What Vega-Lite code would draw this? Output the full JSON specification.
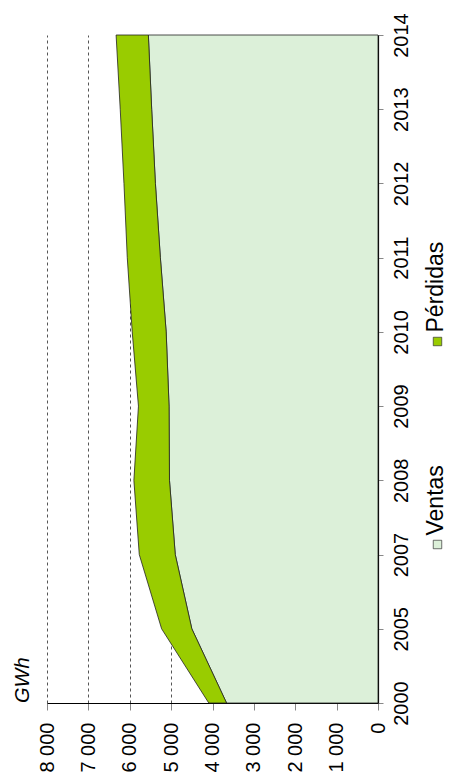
{
  "$schema": "https://vega.github.io/schema/vega-lite/v6.json",
  "width": 331,
  "height": 668,
  "autosize": {"type": "none"},
  "padding": {"left": 47, "top": 35, "right": 71, "bottom": 77},
  "background": "white",
  "title": {
    "text": "GWh",
    "orient": "left",
    "anchor": "start",
    "frame": "group",
    "font": "Liberation Sans",
    "fontSize": 20,
    "fontStyle": "italic",
    "fontWeight": "normal",
    "color": "black",
    "offset": 4
  },
  "data": {
    "values": [
      {"year": "2000", "serie": "Ventas", "value": 3660},
      {"year": "2000", "serie": "Pérdidas", "value": 430},
      {"year": "2005", "serie": "Ventas", "value": 4500},
      {"year": "2005", "serie": "Pérdidas", "value": 730},
      {"year": "2007", "serie": "Ventas", "value": 4900},
      {"year": "2007", "serie": "Pérdidas", "value": 870},
      {"year": "2008", "serie": "Ventas", "value": 5040},
      {"year": "2008", "serie": "Pérdidas", "value": 860},
      {"year": "2009", "serie": "Ventas", "value": 5050},
      {"year": "2009", "serie": "Pérdidas", "value": 740},
      {"year": "2010", "serie": "Ventas", "value": 5120},
      {"year": "2010", "serie": "Pérdidas", "value": 820},
      {"year": "2011", "serie": "Ventas", "value": 5260},
      {"year": "2011", "serie": "Pérdidas", "value": 800},
      {"year": "2012", "serie": "Ventas", "value": 5380},
      {"year": "2012", "serie": "Pérdidas", "value": 760},
      {"year": "2013", "serie": "Ventas", "value": 5470},
      {"year": "2013", "serie": "Pérdidas", "value": 760},
      {"year": "2014", "serie": "Ventas", "value": 5550},
      {"year": "2014", "serie": "Pérdidas", "value": 780}
    ]
  },
  "mark": {"type": "area", "orient": "horizontal", "stroke": "#222222", "strokeWidth": 0.8, "opacity": 1},
  "encoding": {
    "y": {
      "field": "year",
      "type": "ordinal",
      "sort": "descending",
      "scale": {"type": "point", "padding": 0},
      "axis": {
        "orient": "right",
        "title": null,
        "labelAngle": -90,
        "labelAlign": "center",
        "labelBaseline": "top",
        "labelFont": "Liberation Sans",
        "labelFontSize": 20,
        "labelColor": "black",
        "labelPadding": 8,
        "tickSize": 5,
        "tickColor": "#888888",
        "domainColor": "black",
        "domainWidth": 1.2,
        "grid": false
      }
    },
    "x": {
      "field": "value",
      "type": "quantitative",
      "stack": "zero",
      "scale": {"domain": [0, 8000], "reverse": true, "nice": false},
      "axis": {
        "orient": "bottom",
        "title": null,
        "values": [0, 1000, 2000, 3000, 4000, 5000, 6000, 7000, 8000],
        "labelExpr": "replace(format(datum.value, ','), ',', ' ')",
        "labelAngle": -90,
        "labelAlign": "right",
        "labelBaseline": "middle",
        "labelFont": "Liberation Sans",
        "labelFontSize": 20,
        "labelColor": "black",
        "labelPadding": 12,
        "tickSize": 7,
        "tickColor": "#888888",
        "domainColor": "black",
        "domainWidth": 1.2,
        "grid": true,
        "gridColor": "#555555",
        "gridDash": [3, 3],
        "gridWidth": 1
      }
    },
    "color": {
      "field": "serie",
      "type": "nominal",
      "scale": {"domain": ["Pérdidas", "Ventas"], "range": ["#99CC00", "#dcf0d9"]},
      "legend": {
        "orient": "none",
        "legendX": 379,
        "legendY": 295,
        "direction": "vertical",
        "title": null,
        "padding": 0,
        "symbolType": "square",
        "symbolSize": 72,
        "symbolStrokeColor": "#333333",
        "symbolStrokeWidth": 0.7,
        "symbolOpacity": 1,
        "labelFont": "Liberation Sans",
        "labelFontSize": 23,
        "labelColor": "black",
        "labelOffset": -13,
        "labelAlign": "left",
        "labelBaseline": "middle",
        "rowPadding": 117,
        "encode": {
          "labels": {"update": {"angle": {"value": -90}, "dx": {"value": 9}}}
        }
      }
    },
    "order": {"field": "serie", "sort": "descending"}
  },
  "config": {"view": {"stroke": null}}
}
